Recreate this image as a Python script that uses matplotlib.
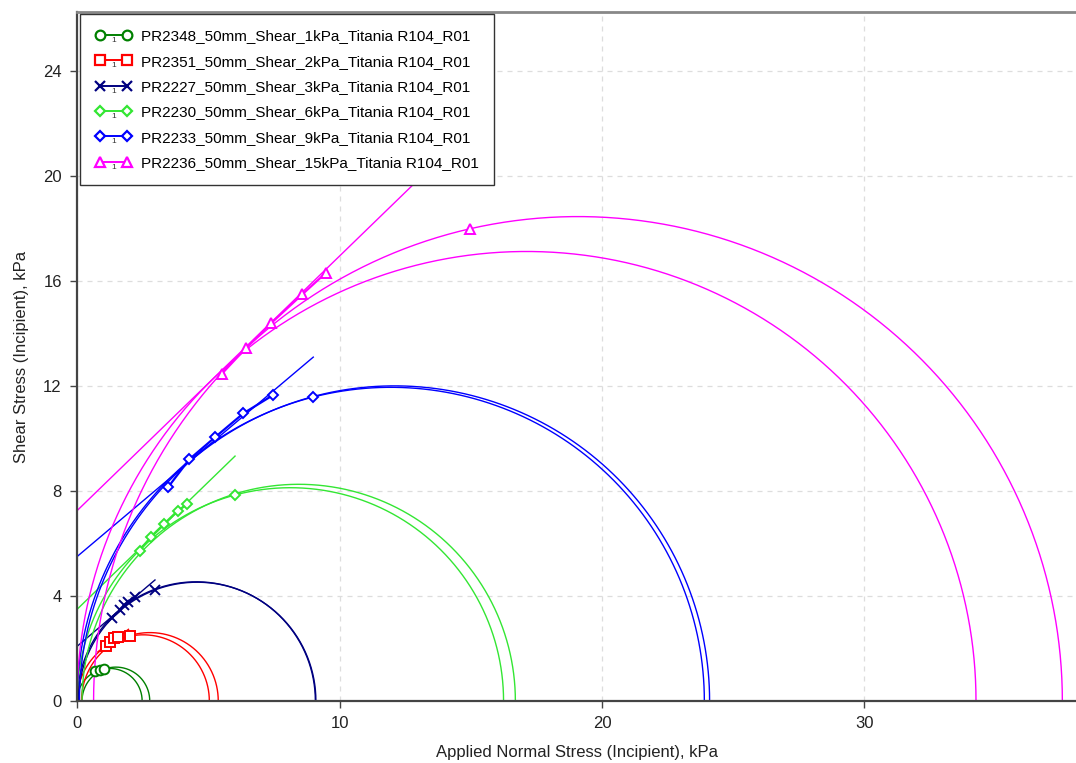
import numpy as np
import matplotlib
matplotlib.use("Agg")
import matplotlib.pyplot as plt
from matplotlib.legend_handler import HandlerLine2D
from matplotlib.text import Text

plt.rcParams['font.family'] = ['Liberation Sans', 'DejaVu Sans']

# series names and colours
names = [
    "PR2348_50mm_Shear_1kPa_Titania R104_R01",
    "PR2351_50mm_Shear_2kPa_Titania R104_R01",
    "PR2227_50mm_Shear_3kPa_Titania R104_R01",
    "PR2230_50mm_Shear_6kPa_Titania R104_R01",
    "PR2233_50mm_Shear_9kPa_Titania R104_R01",
    "PR2236_50mm_Shear_15kPa_Titania R104_R01",
]
colors = ["#008000", "#ff0000", "#000080", "#33e633", "#0000ff", "#ff00ff"]
markers = ["o", "s", "x", "D", "D", "^"]
msizes = [7, 7, 7, 5, 5, 7]

# shear points (normal stress, shear stress), kPa
pts_x = [
    [0.69, 0.88],
    [1.09, 1.26, 1.42, 1.55],
    [1.32, 1.65, 1.80, 1.96, 2.21],
    [2.39, 2.82, 3.31, 3.84, 4.20],
    [3.48, 4.28, 5.26, 6.34, 7.48],
    [5.52, 6.45, 7.39, 8.58, 9.47],
]
pts_y = [
    [1.14, 1.18],
    [2.11, 2.26, 2.39, 2.45],
    [3.17, 3.45, 3.65, 3.78, 3.97],
    [5.73, 6.26, 6.74, 7.25, 7.49],
    [8.16, 9.21, 10.05, 10.96, 11.66],
    [12.47, 13.46, 14.39, 15.49, 16.30],
]
# pre-shear points
pre_x = [1.03, 2.02, 2.97, 6.02, 9.00, 14.98]
pre_y = [1.21, 2.48, 4.22, 7.85, 11.57, 17.97]

# yield locus lines (start, end)
loc_x = [[0.60, 1.05], [0.80, 1.96], [0.0, 2.97], [0.0, 6.02], [0.0, 9.0], [0.0, 15.0]]
loc_y = [[1.10, 1.23], [1.88, 2.73], [2.08, 4.61], [3.49, 9.33], [5.50, 13.10], [7.25, 21.80]]

# Mohr circles: (sigma_min, sigma_max) for unconfined and consolidation circles
circ_lo = [[0.0, 0.19], [0.0, 0.17], [0.0, 0.05], [0.0, 0.19], [0.0, 0.09], [0.0, 0.63]]
circ_hi = [[2.48, 2.77], [5.04, 5.38], [9.08, 9.10], [16.25, 16.70], [23.90, 24.10], [34.25, 37.54]]


class HandlerOne(HandlerLine2D):
    def create_artists(self, legend, orig_handle, xdescent, ydescent,
                       width, height, fontsize, trans):
        arts = super().create_artists(legend, orig_handle, xdescent, ydescent,
                                      width, height, fontsize, trans)
        t = Text(width / 2 - xdescent, height / 2 - ydescent - 1.5, "1",
                 fontsize=fontsize * 0.55, ha="center", va="top",
                 color="#333333", transform=trans)
        return arts + [t]


fig = plt.figure(figsize=(10.76, 7.63), dpi=100)
ax = fig.add_axes([0.0716, 0.0813, 0.9284, 0.9030])

theta = np.linspace(0, np.pi, 400)
handles = []
for i in range(len(names)):
    c = colors[i]
    mfc = c if markers[i] == "x" else "white"
    for lo, hi in zip(circ_lo[i], circ_hi[i]):
        cx = (lo + hi) / 2
        r = (hi - lo) / 2
        ax.plot(cx + r * np.cos(theta), r * np.sin(theta), color=c, lw=1.0,
                zorder=2)
    ax.plot(loc_x[i], loc_y[i], color=c, lw=1.0, zorder=2)
    ax.plot(pts_x[i], pts_y[i], color=c, lw=1.6, zorder=3)
    ax.plot(pts_x[i] + [pre_x[i]], pts_y[i] + [pre_y[i]], ls="none",
            marker=markers[i], ms=msizes[i], mec=c, mfc=mfc, mew=1.4,
            zorder=4)
    h, = ax.plot([], [], color=c, lw=1.4, marker=markers[i], ms=msizes[i],
                 mec=c, mfc=mfc, mew=1.6)
    handles.append(h)

ax.set_xlim(0, 38.06)
ax.set_ylim(0, 26.25)
ax.set_xticks([0, 10, 20, 30])
ax.set_yticks([0, 4, 8, 12, 16, 20, 24])
ax.grid(True, color="#dddddd", ls=(0, (4, 4)), lw=0.9)
ax.set_axisbelow(True)
ax.tick_params(labelsize=12, length=5, width=1, color="#444444",
               labelcolor="#222222", pad=6)

for s in ["left", "bottom"]:
    ax.spines[s].set_color("#444444")
    ax.spines[s].set_linewidth(1.6)
ax.spines["top"].set_color("#888888")
ax.spines["top"].set_linewidth(2.0)
ax.spines["right"].set_visible(False)

ax.set_xlabel("Applied Normal Stress (Incipient), kPa", fontsize=12,
              color="#222222", labelpad=10)
ax.set_ylabel("Shear Stress (Incipient), kPa", fontsize=12,
              color="#222222", labelpad=10)

leg = ax.legend(handles, names, loc="upper left",
                bbox_to_anchor=(0.003, 0.997), borderaxespad=0,
                fontsize=11, numpoints=2, handlelength=2.4, markerscale=1.0,
                handletextpad=0.6, labelspacing=0.74, borderpad=1.0,
                fancybox=False, framealpha=1, edgecolor="#333333",
                handler_map={matplotlib.lines.Line2D: HandlerOne()})
leg.get_frame().set_linewidth(1.0)
leg.set_zorder(10)

fig.savefig("out.png", dpi=100)
